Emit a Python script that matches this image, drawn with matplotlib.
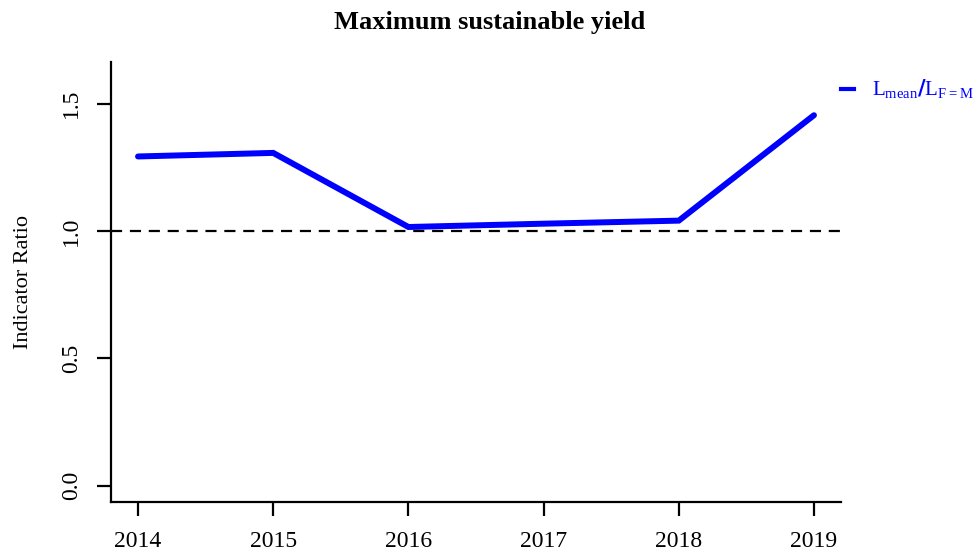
import matplotlib
matplotlib.use("Agg")
import matplotlib.pyplot as plt

years = [2014, 2015, 2016, 2017, 2018, 2019]
ratio = [1.293, 1.307, 1.016, 1.029, 1.041, 1.455]
yticks = [0.0, 0.5, 1.0, 1.5]
ref_level = 1.0

plt.rcParams['font.family'] = ['Liberation Serif', 'DejaVu Serif']
plt.rcParams['mathtext.fontset'] = 'custom'
plt.rcParams['mathtext.rm'] = 'Liberation Serif'

fig = plt.figure(figsize=(9.76, 5.52), dpi=100)
ax = fig.add_axes([111 / 976, 50 / 552, 730 / 976, 440 / 552])

ax.plot(years, ratio, color='#0000ff', lw=4.3, solid_capstyle='round',
        solid_joinstyle='miter')
ax.axhline(ref_level, color='black', lw=1.6, ls=(0, (5, 3.5)))

ax.set_xlim(2013.8, 2019.2)
ax.set_ylim(-0.064, 1.664)
ax.set_xticks(years)
ax.set_yticks(yticks)
ax.set_yticklabels([f"{v:.1f}" for v in yticks], rotation=90, va='center')

for s in ['top', 'right']:
    ax.spines[s].set_visible(False)
for s in ['left', 'bottom']:
    ax.spines[s].set_linewidth(1.6)
ax.tick_params(length=10, width=1.6, labelsize=17, pad=11)
ax.set_ylabel('Indicator Ratio', fontsize=16, labelpad=20)

fig.text(490 / 976, 1 - 22 / 552, 'Maximum sustainable yield', ha='center',
         va='center', fontsize=19, fontweight='bold')

# legend outside the plot, R style
fig.lines.append(plt.Line2D([841 / 976, 854 / 976], [1 - 89 / 552] * 2,
                            color='#0000ff', lw=3, transform=fig.transFigure))
fig.text(872 / 976, 1 - 89 / 552,
         r'$\mathregular{L_{mean}}$' + r'$\mathbf{/}$' + r'$\mathregular{L_{F{=}M}}$',
         ha='left', va='center', fontsize=15, color='#0000ff')

fig.savefig('out.png', dpi=100)
